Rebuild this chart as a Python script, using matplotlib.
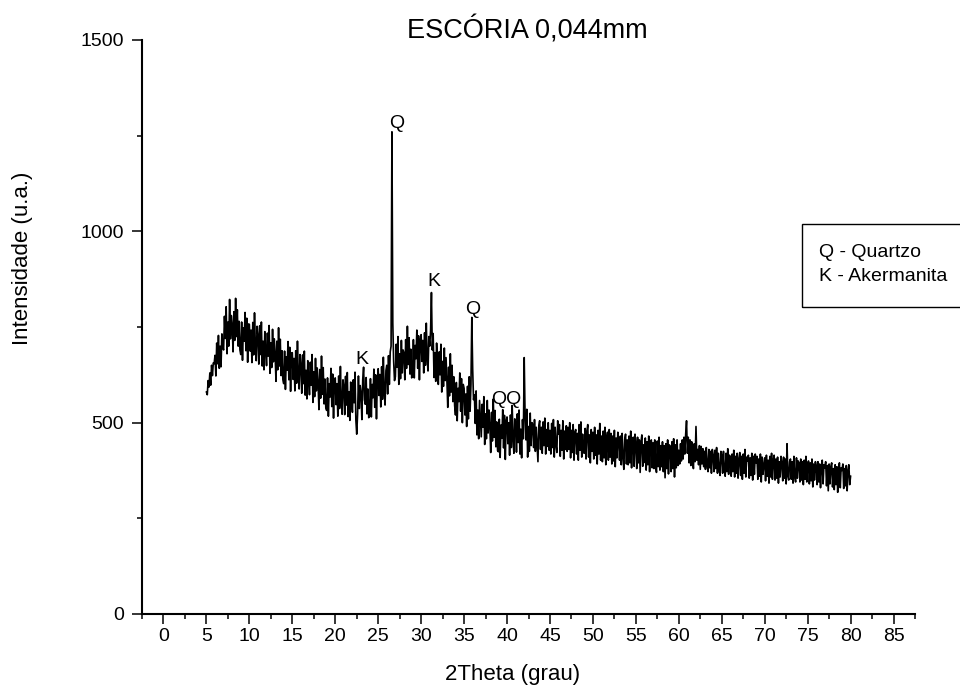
import matplotlib.pyplot as plt
from matplotlib.ticker import MultipleLocator
from matplotlib.patches import Rectangle
import numpy as np

plt.rcParams['font.family'] = ['Liberation Sans', 'DejaVu Sans']

# XRD scan: 5 to 80 degrees, 0.1 degree step
start_angle = 5.0
step = 0.1
intensity = [
    580, 573, 610, 593, 630, 598, 650, 623, 656, 654,  # 5
    676, 622, 708, 654, 728, 642, 700, 646, 732, 698,  # 6
    690, 778, 720, 803, 680, 763, 700, 822, 719, 780,  # 7
    755, 685, 790, 715, 825, 725, 795, 700, 765, 690,  # 8
    678, 763, 663, 748, 713, 788, 688, 773, 658, 758,  # 9
    757, 687, 742, 657, 762, 677, 787, 697, 662, 752,  # 10
    728, 653, 753, 678, 763, 648, 713, 638, 738, 688,  # 11
    649, 734, 674, 754, 629, 709, 644, 744, 659, 719,  # 12
    678, 608, 713, 638, 748, 648, 718, 623, 688, 613,  # 13
    602, 687, 587, 672, 637, 712, 612, 697, 582, 682,  # 14
    683, 613, 668, 583, 688, 603, 713, 623, 588, 678,  # 15
    652, 577, 677, 602, 687, 572, 637, 562, 662, 612,  # 16
    573, 658, 598, 678, 553, 633, 568, 668, 583, 643,  # 17
    604, 534, 639, 564, 674, 574, 644, 549, 614, 539,  # 18
    532, 617, 517, 602, 567, 642, 542, 627, 512, 612,  # 19
    617, 547, 602, 517, 622, 537, 647, 557, 522, 612,  # 20
    596, 521, 621, 546, 631, 516, 581, 506, 606, 556,  # 21
    527, 612, 552, 632, 507, 470, 522, 622, 537, 597,  # 22
    578, 508, 613, 645, 560, 548, 618, 523, 588, 513,  # 23
    530, 615, 515, 600, 565, 640, 540, 625, 510, 610,  # 24
    641, 571, 626, 541, 646, 561, 671, 581, 546, 636,  # 25
    650, 575, 675, 600, 685, 700, 1260, 760, 660, 610,  # 26
    620, 705, 645, 725, 600, 680, 615, 715, 630, 690,  # 27
    682, 612, 717, 642, 752, 652, 722, 627, 692, 617,  # 28
    632, 717, 617, 702, 667, 742, 642, 727, 612, 712,  # 29
    730, 660, 715, 630, 735, 650, 760, 670, 635, 725,  # 30
    700, 740, 840, 690, 733, 618, 683, 608, 708, 658,  # 31
    600, 685, 625, 705, 580, 660, 595, 695, 610, 670,  # 32
    610, 540, 645, 570, 680, 580, 650, 555, 620, 545,  # 33
    520, 605, 505, 590, 555, 630, 530, 615, 500, 600,  # 34
    590, 520, 575, 490, 595, 510, 620, 530, 600, 775,  # 35
    640, 560, 573, 498, 583, 468, 533, 458, 558, 508,  # 36
    463, 548, 488, 568, 443, 523, 458, 558, 473, 533,  # 37
    492, 422, 527, 452, 562, 462, 532, 437, 502, 427,  # 38
    424, 509, 409, 494, 459, 534, 434, 519, 404, 504,  # 39
    515, 445, 500, 415, 520, 435, 545, 455, 420, 510,  # 40
    498, 423, 523, 448, 533, 418, 483, 408, 508, 458,  # 41
    670, 520, 455, 535, 410, 490, 425, 525, 440, 500,  # 42
    495, 435, 508, 425, 488, 445, 398, 492, 505, 430,  # 43
    488, 420, 502, 440, 512, 418, 482, 438, 500, 428,  # 44
    480, 418, 498, 435, 508, 410, 488, 442, 422, 505,  # 45
    470, 495, 412, 480, 428, 505, 405, 478, 430, 492,  # 46
    425, 488, 430, 500, 408, 480, 422, 495, 402, 475,  # 47
    482, 418, 472, 402, 495, 428, 502, 410, 470, 422,  # 48
    420, 485, 405, 478, 495, 410, 468, 395, 482, 425,  # 49
    475, 405, 488, 415, 468, 392, 480, 418, 498, 402,  # 50
    465, 398, 478, 408, 488, 390, 460, 475, 402, 482,  # 51
    410, 472, 392, 465, 400, 480, 385, 460, 408, 475,  # 52
    450, 402, 465, 390, 472, 410, 378, 455, 470, 392,  # 53
    455, 390, 465, 395, 478, 382, 450, 462, 386, 470,  # 54
    445, 380, 462, 395, 455, 370, 450, 468, 386, 442,  # 55
    396, 460, 376, 450, 390, 465, 372, 445, 455, 382,  # 56
    448, 380, 455, 388, 370, 452, 385, 462, 376, 440,  # 57
    385, 450, 372, 440, 356, 445, 380, 455, 366, 442,  # 58
    438, 372, 450, 380, 458, 358, 442, 382, 455, 388,  # 59
    428, 392, 445, 400, 455, 405, 462, 418, 470, 505,  # 60
    420, 462, 395, 455, 388, 450, 405, 380, 445, 398,  # 61
    490, 402, 430, 390, 440, 378, 438, 392, 432, 385,  # 62
    425, 378, 435, 388, 372, 430, 382, 425, 368, 430,  # 63
    415, 372, 428, 380, 435, 368, 420, 378, 362, 425,  # 64
    412, 368, 425, 375, 360, 420, 372, 432, 365, 415,  # 65
    408, 360, 418, 372, 428, 358, 412, 368, 420, 355,  # 66
    405, 422, 362, 412, 352, 418, 368, 430, 358, 410,  # 67
    400, 415, 355, 408, 362, 420, 350, 412, 365, 418,  # 68
    395, 412, 352, 405, 360, 418, 345, 410, 365, 390,  # 69
    408, 348, 415, 360, 402, 342, 412, 358, 420, 352,  # 70
    400, 415, 350, 405, 355, 410, 342, 398, 358, 412,  # 71
    395, 348, 410, 355, 405, 340, 445, 360, 350, 398,  # 72
    405, 352, 398, 342, 412, 358, 345, 408, 355, 400,  # 73
    395, 345, 405, 350, 398, 338, 402, 352, 412, 345,  # 74
    390, 400, 340, 395, 348, 405, 332, 392, 350, 398,  # 75
    388, 338, 398, 345, 392, 330, 385, 402, 340, 390,  # 76
    382, 398, 335, 388, 322, 392, 340, 385, 395, 332,  # 77
    380, 325, 390, 338, 385, 318, 378, 395, 330, 382,  # 78
    375, 392, 328, 380, 335, 388, 322, 375, 390, 338,  # 79
    360,  # 80
]
two_theta = start_angle + step * np.arange(len(intensity))

# phase labels (text, 2theta, intensity)
peak_labels = ['Q', 'K', 'Q', 'QQ', 'K']
peak_x = [27.1, 31.45, 36.05, 39.9, 23.1]
peak_y = [1271, 857, 784, 549, 654]

legend_lines = ['Q - Quartzo', 'K - Akermanita']

fig = plt.figure(figsize=(9.6, 6.98), dpi=100)
ax = fig.add_axes([142 / 960, 1 - 614 / 698, 773 / 960, 574 / 698])

ax.plot(two_theta, intensity, color='black', linewidth=1.2)

ax.set_xlim(-2.5, 87.5)
ax.set_ylim(0, 1500)
ax.xaxis.set_major_locator(MultipleLocator(5))
ax.xaxis.set_minor_locator(MultipleLocator(2.5))
ax.yaxis.set_major_locator(MultipleLocator(500))
ax.yaxis.set_minor_locator(MultipleLocator(250))
ax.tick_params(which='major', direction='out', length=7, width=1.1, labelsize=14)
ax.tick_params(which='minor', direction='out', length=3.6, width=1.1)
ax.tick_params(axis='y', pad=6)
ax.tick_params(axis='x', pad=3)

for side in ['top', 'right']:
    ax.spines[side].set_visible(False)
for side in ['left', 'bottom']:
    ax.spines[side].set_linewidth(1.5)

ax.set_xlabel('2Theta (grau)', fontsize=16)
ax.xaxis.set_label_coords(0.48, -0.087)
ax.set_ylabel('Intensidade (u.a.)', fontsize=16)
ax.yaxis.set_label_coords(-0.141, 0.619)

fig.text(527 / 960, 1 - 38 / 698, 'ESCÓRIA 0,044mm', fontsize=19.5,
         ha='center', va='baseline')

for lab, px, py in zip(peak_labels, peak_x, peak_y):
    ax.text(px, py, lab, fontsize=14, ha='center', va='baseline')

# legend box (runs off the right edge like the original)
fig.add_artist(Rectangle((801.5 / 960, 1 - 307 / 698), 300 / 960, 83 / 698,
                         transform=fig.transFigure, fill=False,
                         edgecolor='black', linewidth=1.0))
fig.text(819 / 960, 1 - 257 / 698, legend_lines[0], fontsize=14, va='baseline')
fig.text(819 / 960, 1 - 281 / 698, legend_lines[1], fontsize=14, va='baseline')

fig.savefig('out.png', dpi=100)
